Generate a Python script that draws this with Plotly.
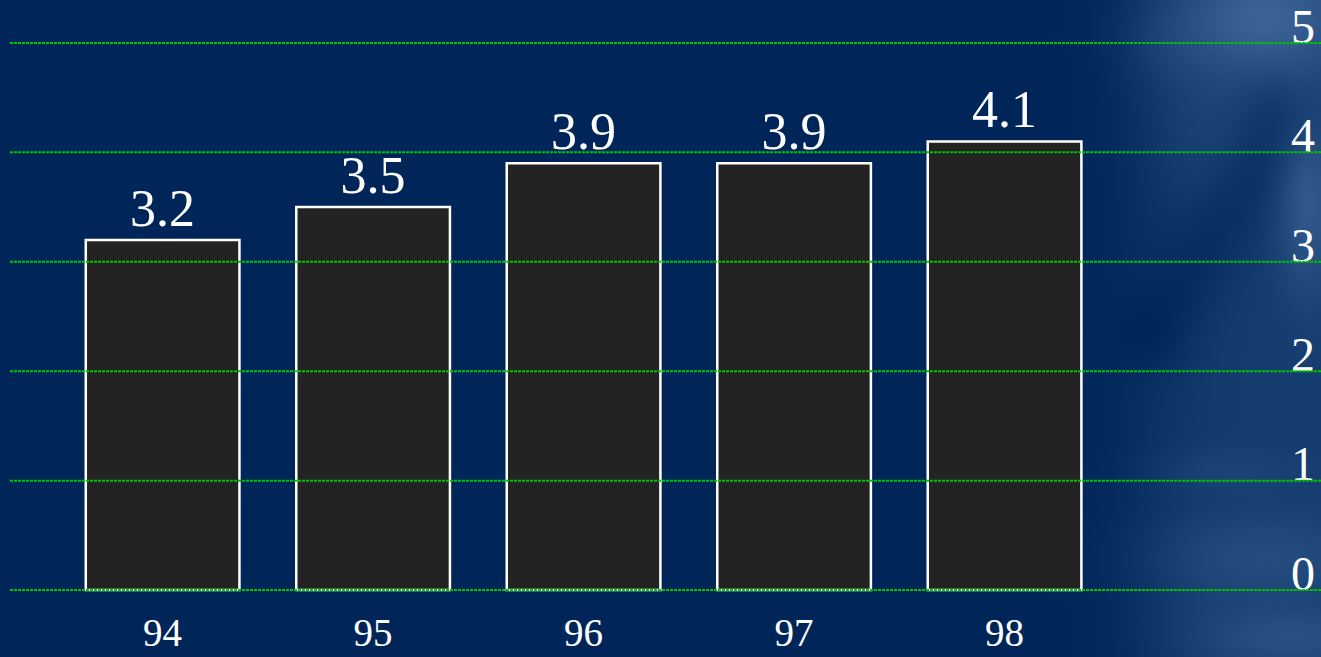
import base64
import struct
import zlib

import numpy as np
import plotly.graph_objects as go

# Data
years = ["94", "95", "96", "97", "98"]
values = [3.2, 3.5, 3.9, 3.9, 4.1]
y_ticks = [0, 1, 2, 3, 4, 5]

W, H = 1321, 657
NAVY = (0, 38, 89)
SERIF = "Liberation Serif, Times New Roman, DejaVu Serif, serif"
M_L, M_R, M_T, M_B = 10, 31, 32, 56
PW, PH = W - M_L - M_R, H - M_T - M_B


def png_data_uri(rgb):
    """Encode an (h, w, 3) uint8 array as a PNG data URI."""
    h, w, _ = rgb.shape
    raw = b"".join(b"\x00" + rgb[r].tobytes() for r in range(h))

    def chunk(tag, data):
        c = struct.pack(">I", len(data)) + tag + data
        return c + struct.pack(">I", zlib.crc32(tag + data) & 0xFFFFFFFF)

    png = b"\x89PNG\r\n\x1a\n"
    png += chunk(b"IHDR", struct.pack(">IIBBBBB", w, h, 8, 2, 0, 0, 0))
    png += chunk(b"IDAT", zlib.compress(raw, 9))
    png += chunk(b"IEND", b"")
    return "data:image/png;base64," + base64.b64encode(png).decode()


# Soft cloudy backdrop along the right-hand side of the slide
sw, sh = 330, 164
gx, gy = np.meshgrid(np.linspace(0, W, sw), np.linspace(0, H, sh))
glow = 0.36 / (1 + np.exp(-(gx - 1150) / 30))
blobs = [
    # cx, cy, rx, ry, strength
    (1265, 15, 90, 60, 0.6),
    (1310, 200, 30, 90, 0.45),
    (1200, 130, 60, 70, 0.12),
    (1260, 560, 120, 45, 0.25),
    (1290, 640, 100, 30, 0.3),
    (1220, 470, 80, 22, 0.12),
    (1160, 40, 45, 45, 0.12),
]
for cx, cy, rx, ry, s in blobs:
    glow += s * np.exp(-(((gx - cx) / rx) ** 2 + ((gy - cy) / ry) ** 2))
# faint darker swirl from lower left to upper right
p0, p1 = np.array([1160.0, 330.0]), np.array([1285.0, 120.0])
d = p1 - p0
tt = np.clip(((gx - p0[0]) * d[0] + (gy - p0[1]) * d[1]) / (d @ d), 0, 1)
dist = np.hypot(gx - (p0[0] + tt * d[0]), gy - (p0[1] + tt * d[1]))
glow -= 0.18 * np.exp(-((dist / 40) ** 2))
glow = np.clip(glow, 0, 1.2)
light = np.array([62, 102, 152], dtype=float)
base = np.array(NAVY, dtype=float)
img = base + glow[..., None] * (light - base)
img = np.clip(img, 0, 255).astype(np.uint8)
backdrop = png_data_uri(img)

fig = go.Figure(
    go.Bar(
        x=years,
        y=values,
        text=[f"{v:.1f}" for v in values],
        textposition="outside",
        textfont=dict(family=SERIF, size=52, color="white"),
        outsidetextfont=dict(family=SERIF, size=52, color="white"),
        cliponaxis=False,
        marker=dict(color="#232323", line=dict(color="white", width=2.5)),
        width=0.73,
    )
)

# Dotted green gridlines drawn on top of the bars
for t in y_ticks:
    fig.add_shape(
        type="line",
        xref="paper",
        yref="y",
        x0=0,
        x1=(W - M_L) / PW,
        y0=t,
        y1=t,
        line=dict(color="#00c400", width=2, dash="3px,1px"),
        layer="above",
    )

fig.update_layout(
    width=W,
    height=H,
    margin=dict(l=M_L, r=M_R, t=M_T, b=M_B, autoexpand=False),
    paper_bgcolor="rgb(%d,%d,%d)" % NAVY,
    plot_bgcolor="rgba(0,0,0,0)",
    font=dict(family=SERIF, color="white"),
    showlegend=False,
    images=[
        dict(
            source=backdrop,
            xref="paper",
            yref="paper",
            x=-M_L / PW,
            y=1 + M_T / PH,
            sizex=W / PW,
            sizey=H / PH,
            sizing="stretch",
            xanchor="left",
            yanchor="top",
            layer="below",
        )
    ],
    xaxis=dict(
        type="category",
        range=[-0.725, 5.356],
        automargin=False,
        showgrid=False,
        zeroline=False,
        showline=False,
        ticks="",
        ticklabelstandoff=5,
        tickfont=dict(family=SERIF, size=39, color="white"),
    ),
    yaxis=dict(
        range=[-0.1, 5.1],
        side="right",
        tickvals=y_ticks,
        automargin=False,
        showgrid=False,
        zeroline=False,
        showline=False,
        ticks="",
        ticklabelshift=-17,
        ticklabelstandoff=0,
        ticklabeloverflow="allow",
        tickfont=dict(family=SERIF, size=48, color="white"),
    ),
)

fig.write_html("out.html")
